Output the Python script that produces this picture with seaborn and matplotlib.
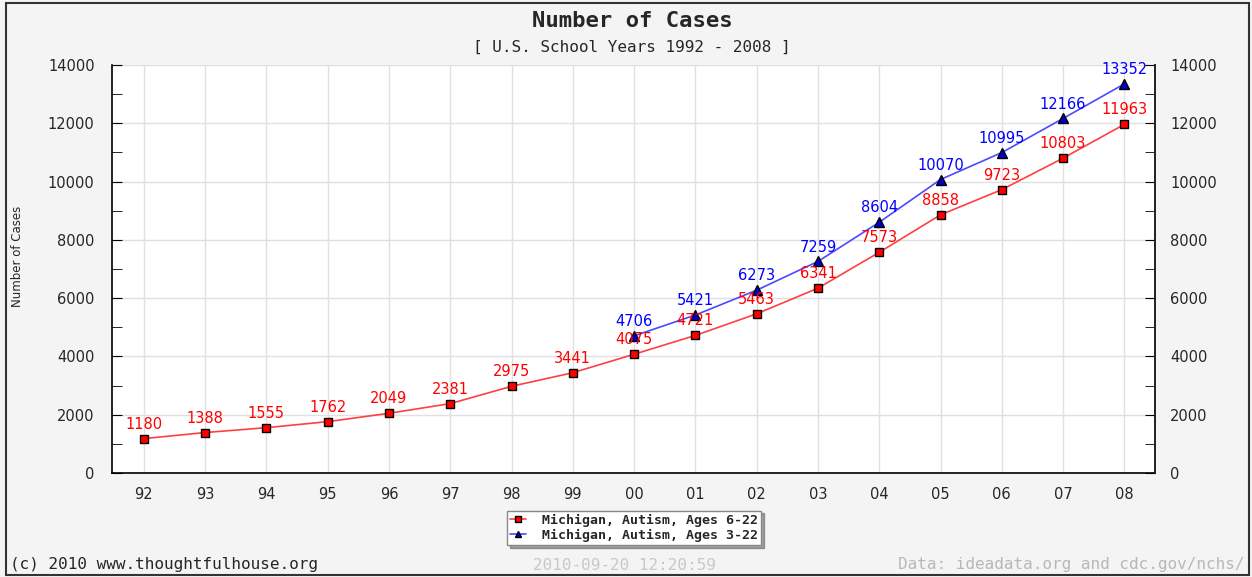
import pandas as pd
import matplotlib.pyplot as plt
import seaborn as sns
from matplotlib.patches import Rectangle

years = ["92", "93", "94", "95", "96", "97", "98", "99", "00",
         "01", "02", "03", "04", "05", "06", "07", "08"]
ages_6_22 = [1180, 1388, 1555, 1762, 2049, 2381, 2975, 3441, 4075,
             4721, 5463, 6341, 7573, 8858, 9723, 10803, 11963]
years_3_22 = ["00", "01", "02", "03", "04", "05", "06", "07", "08"]
ages_3_22 = [4706, 5421, 6273, 7259, 8604, 10070, 10995, 12166, 13352]

label_6_22 = "Michigan, Autism, Ages 6-22"
label_3_22 = "Michigan, Autism, Ages 3-22"

df = pd.concat([
    pd.DataFrame({"year": years, "cases": ages_6_22, "series": label_6_22}),
    pd.DataFrame({"year": years_3_22, "cases": ages_3_22, "series": label_3_22}),
], ignore_index=True)
df["pos"] = df["year"].map({y: i for i, y in enumerate(years)})

sns.set_style("white")
plt.rcParams["font.family"] = ["DejaVu Sans"]

fig = plt.figure(figsize=(12.52, 5.77), dpi=100, facecolor="#f4f4f4")
ax = fig.add_axes([112 / 1252, 1 - 473 / 577, (1155 - 112) / 1252, (473 - 65) / 577])
ax.set_facecolor("white")

palette = {label_6_22: "#ff4040", label_3_22: "#4a4aff"}
faces = {label_6_22: "#ff0000", label_3_22: "#0000cc"}
sns.lineplot(data=df, x="pos", y="cases", hue="series", style="series",
             markers={label_6_22: "s", label_3_22: "^"}, dashes=False,
             palette=palette, markersize=5.5, markeredgecolor="black",
             markeredgewidth=1, linewidth=1.2, ax=ax)

# colour the marker faces
for line, face in zip(ax.lines[:2], faces.values()):
    line.set_markerfacecolor(face)
ax.lines[1].set_markersize(6.5)

for _, row in df.iterrows():
    color = "#ff0000" if row["series"] == label_6_22 else "#0000ff"
    ax.annotate(str(row["cases"]), (row["pos"], row["cases"]),
                xytext=(0, 5), textcoords="offset points", ha="center",
                va="bottom", color=color, fontsize=10.5)

ax.set_xlim(-0.52, 16.5)
ax.set_ylim(0, 14000)
ax.set_xticks(range(len(years)))
ax.set_xticklabels(years)
ax.set_yticks(range(0, 14001, 2000))
ax.set_yticks(range(1000, 14000, 2000), minor=True)
ax.grid(True, which="major", color="#e0e0e0", linewidth=1)
ax.tick_params(axis="y", which="both", labelsize=10.5, length=7,
               direction="in", color="black", pad=12.5)
ax.tick_params(axis="x", labelsize=10.5, length=7, direction="out",
               color="black", pad=3)
ax.set_xlabel("")
ax.set_ylabel("Number of Cases", fontsize=8.5)
ax.yaxis.set_label_coords(-0.084, 0.53)

ax.spines["top"].set_visible(False)
for side in ["left", "right", "bottom"]:
    ax.spines[side].set_color("black")
    ax.spines[side].set_linewidth(1.2)

ax2 = ax.twinx()
ax2.set_ylim(ax.get_ylim())
ax2.set_yticks(range(0, 14001, 2000))
ax2.set_yticks(range(1000, 14000, 2000), minor=True)
ax2.tick_params(axis="y", which="both", length=7, direction="in",
                labelsize=10.5, color="black", pad=11)
for side in ["top", "bottom", "left"]:
    ax2.spines[side].set_visible(False)
ax2.spines["right"].set_linewidth(1.2)

ax.get_legend().remove()
handles, labels = ax.get_legend_handles_labels()
for h, face in zip(handles, faces.values()):
    h.set_markerfacecolor(face)
    h.set_markeredgecolor("black")
    h.set_markersize(5)
leg = fig.legend(handles, labels, loc="center",
                 bbox_to_anchor=(634 / 1252, 1 - 528 / 577),
                 prop={"family": "DejaVu Sans Mono", "size": 9.5, "weight": "bold"},
                 frameon=True, fancybox=False, shadow=True, handlelength=1.2,
                 borderpad=0.25, labelspacing=0.15, handletextpad=1.2)
leg.get_frame().set_edgecolor("#888888")
leg.get_frame().set_facecolor("white")

mono = "DejaVu Sans Mono"
fig.text(632 / 1252, 1 - 21 / 577, "Number of Cases", ha="center", va="center",
         family=mono, fontsize=16, weight="bold")
fig.text(632 / 1252, 1 - 47 / 577, "[ U.S. School Years 1992 - 2008 ]",
         ha="center", va="center", family=mono, fontsize=11.5)
fig.text(10 / 1252, 1 - 565 / 577, "(c) 2010 www.thoughtfulhouse.org",
         ha="left", va="center", family=mono, fontsize=11.5)
fig.text(624 / 1252, 1 - 565 / 577, "2010-09-20 12:20:59", ha="center",
         va="center", family=mono, fontsize=11.5, color="#c8c8c8")
fig.text(1245 / 1252, 1 - 565 / 577, "Data: ideadata.org and cdc.gov/nchs/",
         ha="right", va="center", family=mono, fontsize=11.5, color="#b8b8b8")

fig.patches.append(Rectangle((6 / 1252, 2 / 577), 1243 / 1252, 572 / 577,
                             transform=fig.transFigure, fill=False,
                             edgecolor="#333333", linewidth=1.5))

fig.savefig("out.png", dpi=100, facecolor=fig.get_facecolor())
